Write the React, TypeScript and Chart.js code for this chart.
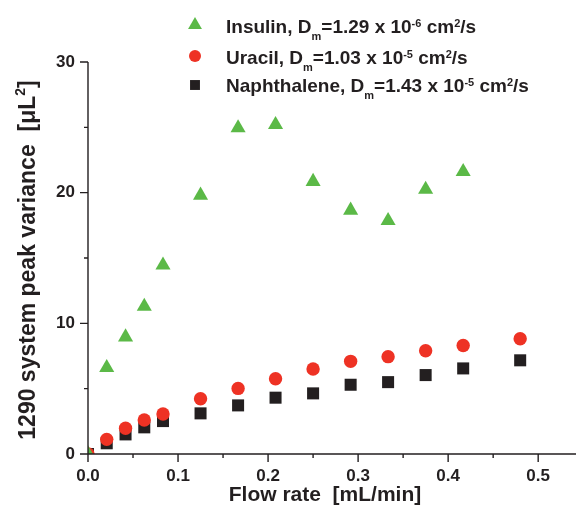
import React, { useEffect, useRef } from 'react';
import { Chart, registerables } from 'chart.js';

Chart.register(...registerables);

// ---- data ----
const flowRate = [0, 0.0208, 0.0417, 0.0625, 0.0833, 0.125, 0.1667, 0.2083, 0.25, 0.2917, 0.3333, 0.375, 0.4167, 0.48];
const insulin = [0, 6.6, 8.95, 11.3, 14.45, 19.8, 24.95, 25.2, 20.85, 18.65, 17.85, 20.25, 21.6];
const uracil = [0, 1.12, 1.97, 2.6, 3.06, 4.23, 5.02, 5.76, 6.5, 7.09, 7.45, 7.9, 8.3, 8.82];
const naphthalene = [0, 0.82, 1.5, 2.04, 2.52, 3.11, 3.72, 4.31, 4.64, 5.3, 5.5, 6.04, 6.55, 7.17];

const seriesNames = ['Insulin', 'Uracil', 'Naphthalene'];
const dmMantissa = ['1.29', '1.03', '1.43'];
const dmExponent = ['-6', '-5', '-5'];

const xMajorTicks = [0, 0.1, 0.2, 0.3, 0.4, 0.5];
const xMinorTicks = [0.05, 0.15, 0.25, 0.35, 0.45];
const yMajorTicks = [0, 10, 20, 30];
const yMinorTicks = [5, 15, 25];

const xTitle = 'Flow rate  [mL/min]';
const yTitleMain = '1290 system peak variance  [\u03bcL';
const yTitleSup = '2';
const yTitleEnd = ']';

// ---- style ----
const GREEN = '#5BB947';
const RED = '#EE3224';
const BLACK = '#231F20';
const FONT = '"Liberation Sans", Arial, sans-serif';

const toXY = (ys: number[]) => ys.map((v, i) => ({ x: flowRate[i], y: v }));

const axesPlugin = {
  id: 'customAxes',
  afterDraw(chart: any) {
    const { ctx, scales } = chart;
    const xs = scales.x;
    const ys = scales.y;
    const x0 = xs.getPixelForValue(0);
    const y0 = ys.getPixelForValue(0);
    ctx.save();
    ctx.strokeStyle = BLACK;
    ctx.lineWidth = 1.4;
    ctx.beginPath();
    ctx.moveTo(x0, ys.getPixelForValue(30));
    ctx.lineTo(x0, y0);
    ctx.moveTo(x0 - 7, y0);
    ctx.lineTo(chart.width, y0);
    yMajorTicks.forEach((v) => {
      const p = ys.getPixelForValue(v);
      ctx.moveTo(x0 - 8, p);
      ctx.lineTo(x0, p);
    });
    yMinorTicks.forEach((v) => {
      const p = ys.getPixelForValue(v);
      ctx.moveTo(x0 - 4, p);
      ctx.lineTo(x0, p);
    });
    xMajorTicks.forEach((v) => {
      const p = xs.getPixelForValue(v);
      ctx.moveTo(p, y0);
      ctx.lineTo(p, y0 + 8);
    });
    xMinorTicks.forEach((v) => {
      const p = xs.getPixelForValue(v);
      ctx.moveTo(p, y0);
      ctx.lineTo(p, y0 + 4);
    });
    ctx.stroke();

    // axis titles
    ctx.fillStyle = BLACK;
    ctx.textBaseline = 'alphabetic';
    ctx.textAlign = 'left';
    ctx.font = `bold 21px ${FONT}`;
    const xw = ctx.measureText(xTitle).width;
    ctx.fillText(xTitle, 325 - xw / 2, 501);

    ctx.save();
    ctx.translate(35, 260);
    ctx.rotate(-Math.PI / 2);
    ctx.font = `bold 23px ${FONT}`;
    const w1 = ctx.measureText(yTitleMain).width;
    const w3 = ctx.measureText(yTitleEnd).width;
    ctx.font = `bold 14px ${FONT}`;
    const w2 = ctx.measureText(yTitleSup).width;
    let px = -(w1 + w2 + w3) / 2;
    ctx.font = `bold 23px ${FONT}`;
    ctx.fillText(yTitleMain, px, 0);
    px += w1;
    ctx.font = `bold 14px ${FONT}`;
    ctx.fillText(yTitleSup, px, -10);
    px += w2;
    ctx.font = `bold 23px ${FONT}`;
    ctx.fillText(yTitleEnd, px, 0);
    ctx.restore();

    ctx.restore();
  },
};

function drawMarker(ctx: CanvasRenderingContext2D, style: string, color: string, x: number, y: number, r: number) {
  ctx.fillStyle = color;
  ctx.beginPath();
  if (style === 'triangle') {
    const h = r * Math.sqrt(3) / 2;
    ctx.moveTo(x, y - r);
    ctx.lineTo(x + h, y + r / 2);
    ctx.lineTo(x - h, y + r / 2);
    ctx.closePath();
  } else if (style === 'circle') {
    ctx.arc(x, y, r, 0, Math.PI * 2);
  } else {
    const s = r * Math.SQRT1_2;
    ctx.rect(x - s, y - s, 2 * s, 2 * s);
  }
  ctx.fill();
}

const legendPlugin = {
  id: 'customLegend',
  afterDraw(chart: any) {
    const { ctx } = chart;
    const markerX = 195;
    const textX = 226;
    const baselines = [33, 64, 92];
    const markerY = [25, 56, 85];
    const markerR = [8, 6, 7];
    ctx.save();
    chart.data.datasets.forEach((ds: any, i: number) => {
      drawMarker(ctx, ds.pointStyle, ds.backgroundColor, markerX, markerY[i], markerR[i]);
      const parts: [string, number, number][] = [
        [`${seriesNames[i]}, D`, 19, 0],
        ['m', 11, 7],
        [`=${dmMantissa[i]} x 10`, 19, 0],
        [dmExponent[i], 11, -6],
        [' cm', 19, 0],
        ['2', 11, -6],
        ['/s', 19, 0],
      ];
      let x = textX;
      ctx.fillStyle = BLACK;
      ctx.textBaseline = 'alphabetic';
      ctx.textAlign = 'left';
      parts.forEach(([t, size, dy]) => {
        ctx.font = `bold ${size}px ${FONT}`;
        ctx.fillText(t, x, baselines[i] + dy);
        x += ctx.measureText(t).width;
      });
    });
    ctx.restore();
  },
};

export default function App() {
  const ref = useRef<HTMLCanvasElement>(null);
  useEffect(() => {
    if (!ref.current) return;
    const chart = new Chart(ref.current, {
      type: 'scatter',
      data: {
        datasets: [
          { label: seriesNames[0], data: toXY(insulin), pointStyle: 'triangle', backgroundColor: GREEN, borderColor: GREEN, pointRadius: 8.7, pointBorderWidth: 0, clip: 0 } as any,
          { label: seriesNames[1], data: toXY(uracil), pointStyle: 'circle', backgroundColor: RED, borderColor: RED, pointRadius: 6.7, pointBorderWidth: 0, clip: 0 } as any,
          { label: seriesNames[2], data: toXY(naphthalene), pointStyle: 'rect', backgroundColor: BLACK, borderColor: BLACK, pointRadius: 8.5, pointBorderWidth: 0, clip: 0 } as any,
        ],
      },
      options: {
        responsive: false,
        animation: false,
        events: [],
        layout: { autoPadding: false, padding: { top: 62, right: 0, left: 0, bottom: 0 } },
        plugins: { legend: { display: false }, tooltip: { enabled: false } },
        scales: {
          x: {
            type: 'linear',
            min: 0,
            max: 0.542,
            grid: { display: false, drawTicks: false },
            border: { display: false },
            ticks: {
              stepSize: 0.1,
              includeBounds: false,
              color: BLACK,
              font: { family: FONT, size: 17, weight: 'bold' },
              padding: 12,
              callback: (v: any) => (Math.abs(v * 10 - Math.round(v * 10)) < 1e-6 ? Number(v).toFixed(1) : ''),
            },
            title: { display: false },
            afterFit: (s: any) => { s.height = 59; s.paddingRight = 0; s.paddingLeft = 0; },
          },
          y: {
            type: 'linear',
            min: 0,
            max: 30,
            grid: { display: false, drawTicks: false },
            border: { display: false },
            ticks: {
              stepSize: 10,
              color: BLACK,
              font: { family: FONT, size: 17, weight: 'bold' },
              padding: 13,
            },
            title: { display: false },
            afterFit: (s: any) => { s.width = 88; },
          },
        },
      },
      plugins: [axesPlugin, legendPlugin],
    } as any);
    return () => chart.destroy();
  }, []);
  return (
    <div style={{ position: 'fixed', left: 0, top: 0, width: 576, height: 513, background: '#fff' }}>
      <canvas ref={ref} width={576} height={513} style={{ display: 'block' }} />
    </div>
  );
}
